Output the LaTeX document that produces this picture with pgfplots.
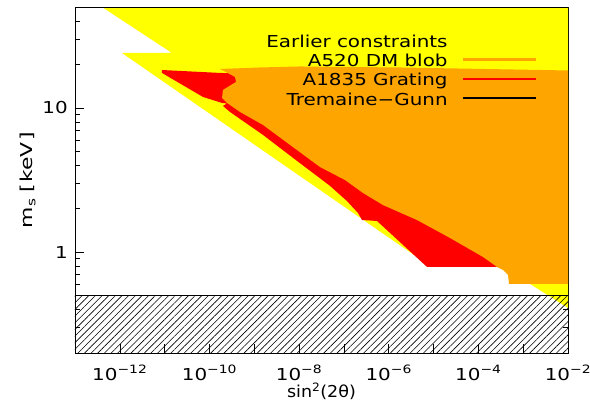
\documentclass[border=0pt]{standalone}
\usepackage{fontspec}
\setmainfont{DejaVu Sans}[FakeStretch=1.21]
\usepackage{pgfplots}
\pgfplotsset{compat=1.18}
\usetikzlibrary{patterns.meta}
\definecolor{idlyellow}{RGB}{255,255,0}
\definecolor{idlorange}{RGB}{255,165,0}
\definecolor{idlred}{RGB}{255,0,0}
\newcommand{\lbl}{\fontsize{16.5}{19}\selectfont}
\begin{document}
\begin{tikzpicture}
\begin{axis}[
  at={(0,0)}, anchor=south west,
  scale only axis, width=493bp, height=346bp,
  xmode=log, ymode=log,
  xmin=1e-13, xmax=1e-2, ymin=0.2, ymax=50,
  axis line style={line width=0.8pt, black},
  xtick={1e-13,1e-12,1e-11,1e-10,1e-9,1e-8,1e-7,1e-6,1e-5,1e-4,1e-3,1e-2},
  xticklabels={,10\textsuperscript{−12},,10\textsuperscript{−10},,10\textsuperscript{−8},,10\textsuperscript{−6},,10\textsuperscript{−4},,10\textsuperscript{−2}},
  xminorticks=false,
  ytick={1,10}, yticklabels={1,10},
  minor ytick={0.2,0.3,0.4,0.5,0.6,0.7,0.8,0.9,2,3,4,5,6,7,8,9,20,30,40,50},
  major tick length=9bp, minor tick length=5bp,
  tick style={black, line width=0.6pt},
  tick label style={font=\lbl},
  xticklabel style={anchor=base, yshift=-27bp, inner sep=0pt},
  yticklabel style={anchor=east, xshift=-7bp, inner sep=0pt},
  xlabel={\scalebox{0.88}[1]{sin\textsuperscript{2}(2θ)}},
  xlabel style={font=\lbl, at={(axis description cs:0.5,-0.130)}, anchor=base, inner sep=0pt},
  ylabel={\scalebox{1.1}[1]{m\textsubscript{s}\hspace{5bp}[\hspace{1.5bp}keV\hspace{1.5bp}]}},
  ylabel style={font=\lbl, at={(axis description cs:-0.0953,0.5)}, anchor=center, inner sep=0pt},
  legend style={at={(axis description cs:0.9371,0.919)}, anchor=north east, draw=none, fill=none,
    font=\lbl, inner sep=0pt, row sep=7.3bp, column sep=14bp,
    nodes={inner sep=0pt, text height=12bp, text depth=0pt}},
  legend cell align=right,
  legend plot pos=right,
  legend image code/.code={\draw[#1, line width=2.2bp] (0bp,1bp) -- (73bp,1bp);},
]
% Earlier constraints (yellow)
\addplot[fill=idlyellow, draw=none, forget plot] coordinates {
(1.64e-13,60) (1.46e-11,24.0) (1.12e-12,24.0) (7.14e-6,0.828) (2.61e-4,0.802)
(1.42e-3,0.602) (1.85e-2,0.364) (1.85e-2,60)} -- cycle;
% A1835 Grating (red)
\addplot[fill=idlred, draw=none, forget plot] coordinates {
(8.73e-12,18.3) (1.72e-10,17.46) (1.34e-9,17.18) (1.05e-8,11.34) (1.79e-6,5.11)
(6.57e-4,1.036) (2.61e-4,0.790) (7.14e-6,0.790) (5.47e-7,1.645) (2.53e-7,1.67)
(2.06e-7,1.87) (1.17e-7,2.26) (4.89e-8,2.88) (2.51e-8,3.37) (8.98e-9,4.29)
(1.57e-9,6.49) (2.87e-10,9.37) (2.00e-10,10.31) (2.46e-10,10.73) (1.91e-10,10.81)
(7.18e-11,11.90) (8.73e-12,17.46)} -- cycle;
% A520 DM blob (orange)
\addplot[fill=idlorange, draw=none, forget plot] coordinates {
(1.72e-10,18.6) (1.34e-9,19.05) (1.05e-8,19.36) (1.79e-6,19.05) (1e-2,18.16)
(1.85e-2,18.1) (1.85e-2,0.602) (4.83e-4,0.602) (4.58e-4,0.695) (3.55e-4,0.753)
(2.61e-4,0.790) (1.27e-4,0.926) (2.33e-5,1.254) (4.27e-6,1.671) (7.45e-7,2.12)
(2.67e-7,2.57) (1.06e-7,3.16) (2.93e-8,3.89) (1.57e-9,7.61) (4.80e-10,9.37)
(2.87e-10,10.47) (2.46e-10,10.81) (1.91e-10,11.71) (2.00e-10,13.31)
(3.91e-10,15.12) (3.72e-10,16.37)} -- cycle;
% Tremaine-Gunn (hatched)
\addplot[draw=none, pattern={Lines[angle=45, distance=4.7bp, line width=0.6pt]}, pattern color=black, forget plot]
  coordinates {(1e-14,0.1) (1,0.1) (1,0.5) (1e-14,0.5)} -- cycle;
\addplot[black, line width=0.8pt, forget plot] coordinates {(1e-13,0.5) (1e-2,0.5)};
\draw[black, line width=0.8pt] (rel axis cs:0,0) rectangle (rel axis cs:1,1);
\addlegendimage{idlyellow}\addlegendentry{Earlier constraints}
\addlegendimage{idlorange}\addlegendentry{A520 DM blob}
\addlegendimage{idlred}\addlegendentry{A1835 Grating}
\addlegendimage{black}\addlegendentry{Tremaine−Gunn}
\end{axis}
\pgfresetboundingbox
\path (-75bp,-58bp) rectangle (515bp,353bp);
\end{tikzpicture}
\end{document}
